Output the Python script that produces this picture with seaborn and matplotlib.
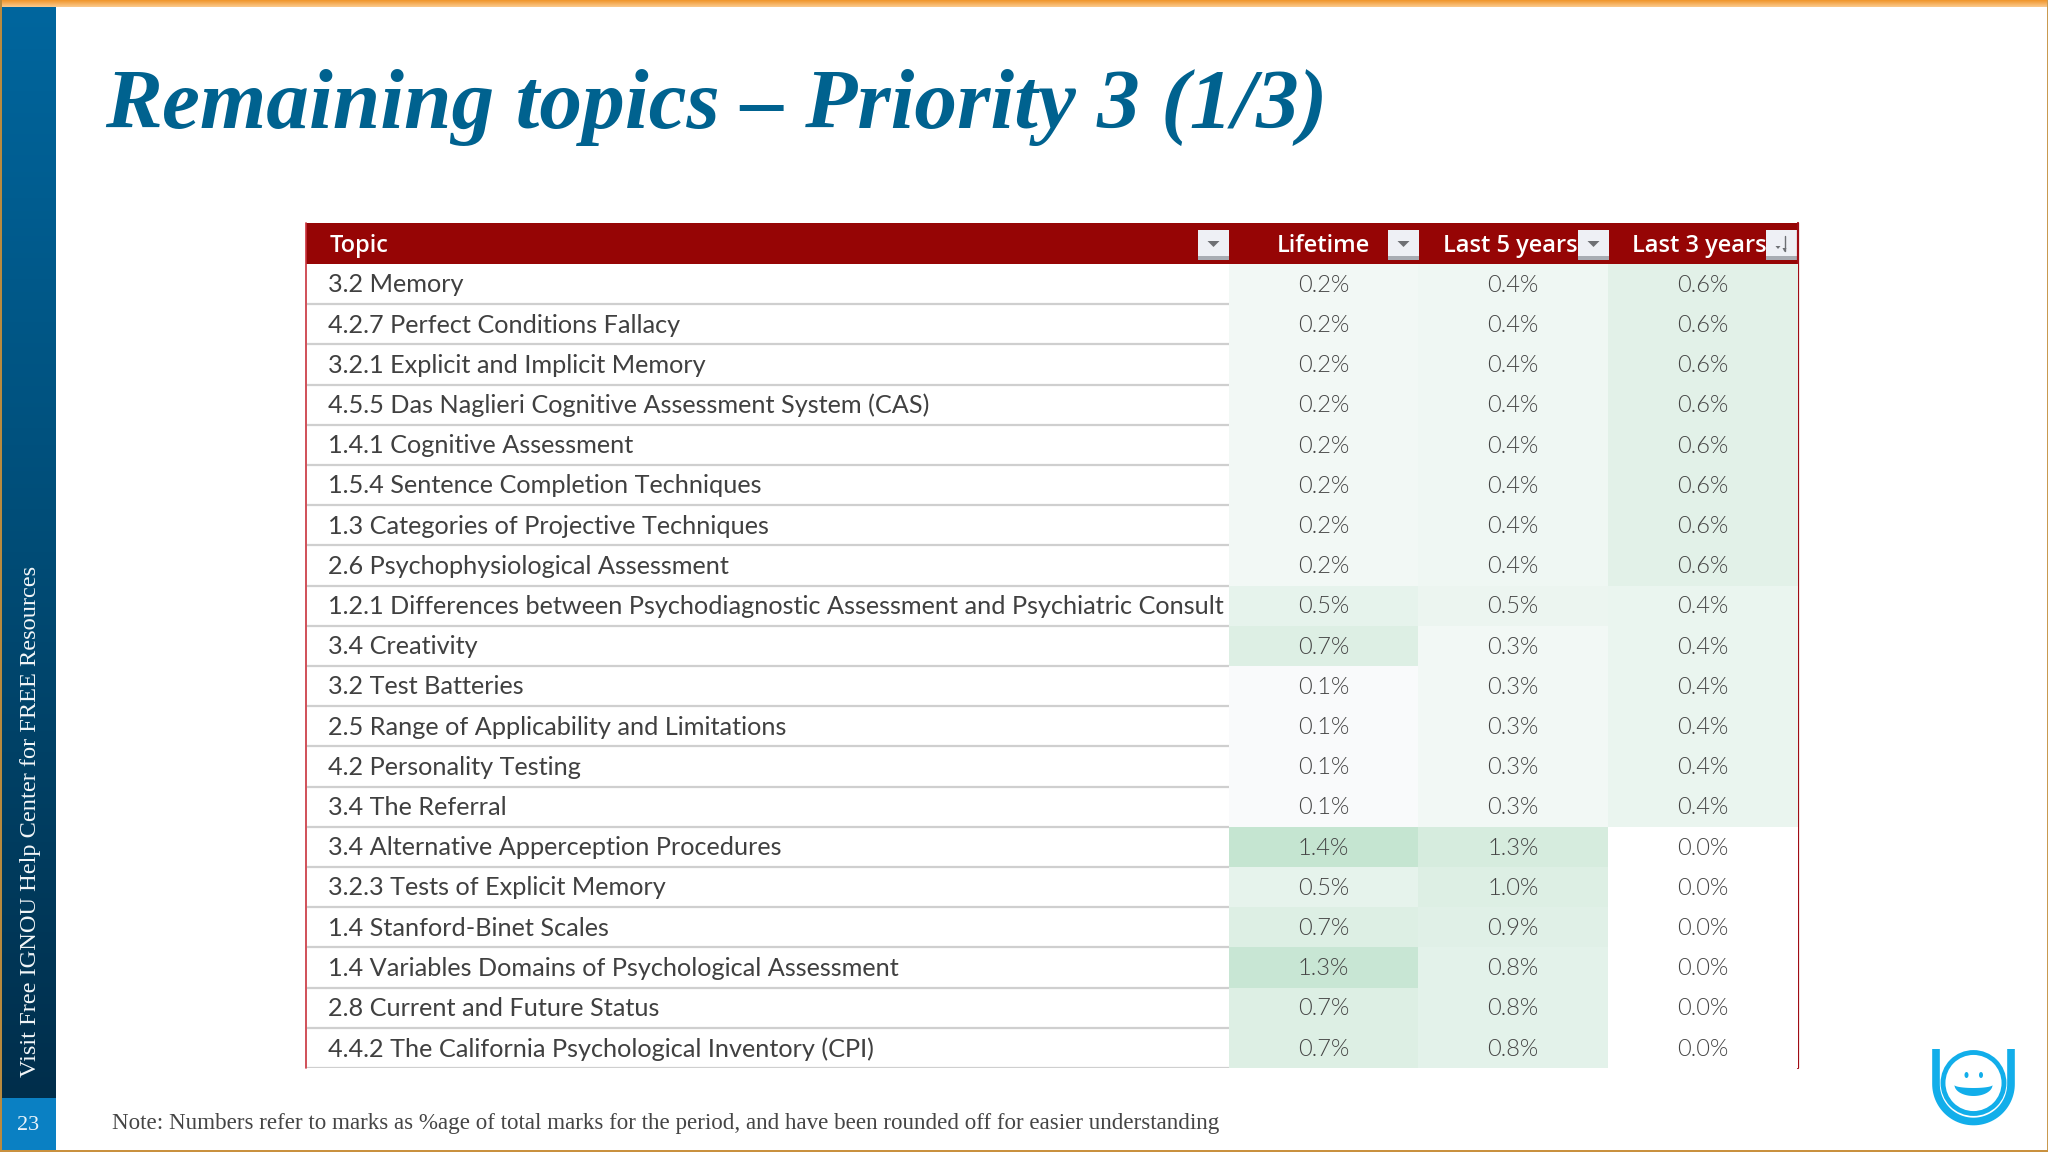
import numpy as np
import pandas as pd
import seaborn as sns
from matplotlib import pyplot as plt
from matplotlib.colors import LinearSegmentedColormap
from matplotlib.patches import Rectangle, Polygon, Circle, Ellipse

# Table content
topics = [
    "3.2 Memory",
    "4.2.7 Perfect Conditions Fallacy",
    "3.2.1 Explicit and Implicit Memory",
    "4.5.5 Das Naglieri Cognitive Assessment System (CAS)",
    "1.4.1 Cognitive Assessment",
    "1.5.4 Sentence Completion Techniques",
    "1.3 Categories of Projective Techniques",
    "2.6 Psychophysiological Assessment",
    "1.2.1 Differences between Psychodiagnostic Assessment and Psychiatric Consult",
    "3.4 Creativity",
    "3.2 Test Batteries",
    "2.5 Range of Applicability and Limitations",
    "4.2 Personality Testing",
    "3.4 The Referral",
    "3.4 Alternative Apperception Procedures",
    "3.2.3 Tests of Explicit Memory",
    "1.4 Stanford-Binet Scales",
    "1.4 Variables Domains of Psychological Assessment",
    "2.8 Current and Future Status",
    "4.4.2 The California Psychological Inventory (CPI)",
]
lifetime = [0.2, 0.2, 0.2, 0.2, 0.2, 0.2, 0.2, 0.2, 0.5, 0.7,
            0.1, 0.1, 0.1, 0.1, 1.4, 0.5, 0.7, 1.3, 0.7, 0.7]
last_5 = [0.4, 0.4, 0.4, 0.4, 0.4, 0.4, 0.4, 0.4, 0.5, 0.3,
          0.3, 0.3, 0.3, 0.3, 1.3, 1.0, 0.9, 0.8, 0.8, 0.8]
last_3 = [0.6, 0.6, 0.6, 0.6, 0.6, 0.6, 0.6, 0.6, 0.4, 0.4,
          0.4, 0.4, 0.4, 0.4, 0.0, 0.0, 0.0, 0.0, 0.0, 0.0]
columns = ["Lifetime", "Last 5 years", "Last 3 years"]

title = "Remaining topics – Priority 3 (1/3)"
note = "Note: Numbers refer to marks as %age of total marks for the period, and have been rounded off for easier understanding"
side_text = "Visit Free IGNOU Help Center for FREE Resources"
page_number = "23"

sns.set_theme(style="white")
plt.rcParams['font.family'] = ['Lato', 'DejaVu Sans']

W, H = 2048, 1152
fig = plt.figure(figsize=(W / 100, H / 100), dpi=100, facecolor="white")


def px_axes(left, top, right, bottom, zorder=1):
    ax = fig.add_axes([left / W, 1 - bottom / H, (right - left) / W, (bottom - top) / H])
    ax.set_zorder(zorder)
    return ax


# Slide background, in pixel coordinates
bg = px_axes(0, 0, W, H, zorder=0)
bar_colors = LinearSegmentedColormap.from_list("bar", ["#00669E", "#004C76", "#002E4B"])
bg.imshow(np.linspace(0, 1, 256).reshape(-1, 1), cmap=bar_colors, aspect="auto",
          extent=(1, 56, 1098, 6))
stripe = LinearSegmentedColormap.from_list("stripe", ["#F0962C", "#FBC98C"])
bg.imshow(np.linspace(0, 1, 16).reshape(-1, 1), cmap=stripe, aspect="auto",
          extent=(0, W, 7, 0))
bg.add_patch(Rectangle((1, 1098), 55, 54, color="#0A80C3", lw=0))
bg.add_patch(Rectangle((0, 0), 1.5, H, color="#B98A3E", lw=0))
bg.add_patch(Rectangle((W - 1.5, 0), 1.5, H, color="#C99A50", lw=0))
bg.add_patch(Rectangle((0, H - 2), W, 2, color="#C9913F", lw=0))
bg.set_xlim(0, W)
bg.set_ylim(H, 0)
bg.axis("off")

bg.text(105, 128, title, color="#00628F", fontsize=61.5, style="italic", fontweight="bold",
        family="Liberation Serif", va="baseline", ha="left")
bg.text(112, 1124, note, color="#454545", fontsize=16.55, family="Liberation Serif",
        va="center", ha="left")
bg.text(31, 821, side_text, color="#F2F6F8", fontsize=17.6, family="Liberation Serif",
        rotation=90, va="center", ha="center")
bg.text(28, 1126, page_number, color="#EAF4FA", fontsize=16, family="Liberation Serif",
        va="center", ha="center")

# Table header band and borders
col_edges = [1229, 1418, 1608, 1798]
table_left, table_top, header_bottom, table_bottom = 306, 223, 264, 1068
bg.add_patch(Rectangle((table_left, table_top), col_edges[-1] - table_left,
                       header_bottom - table_top, color="#960505", lw=0))
header_kw = dict(color="white", fontsize=17, va="center", family="Open Sans",
                 fontweight=600, zorder=3)
bg.text(330, 246, "Topic", ha="left", **header_kw)
bg.text(1323, 246, columns[0], ha="center", **header_kw)
bg.text(1443, 246, columns[1], ha="left", **header_kw)
bg.text(1632, 246, columns[2], ha="left", **header_kw)

# Filter buttons on the header
for i, right in enumerate([1229, 1419, 1609, 1797]):
    left = right - 31
    bg.add_patch(Rectangle((left, 230), 31, 28, color="#EEF0F5", lw=0, zorder=4))
    bg.add_patch(Rectangle((left, 256), 31, 4, color="#A8ACB3", lw=0, zorder=4))
    mid = left + 15.5
    if i < 3:
        bg.add_patch(Polygon([(mid - 6, 241), (mid + 6, 241), (mid, 247)],
                             color="#6E7074", lw=0, zorder=5))
    else:
        bg.add_patch(Polygon([(mid - 6, 246), (mid - 1, 246), (mid - 3.5, 249)],
                             color="#6E7074", lw=0, zorder=5))
        bg.plot([mid + 3, mid + 3], [236, 251], color="#6E7074", lw=1, zorder=5)
        bg.add_patch(Polygon([(mid + 1, 248), (mid + 5, 248), (mid + 3, 252)],
                             color="#6E7074", lw=0, zorder=5))

bg.plot([table_left, table_left], [table_top, table_bottom], color="#C8323C", lw=1.2)
bg.plot([col_edges[-1]] * 2, [table_top, table_bottom], color="#A00C14", lw=1.6, zorder=6)

# Topic column
n_rows = len(topics)
ax_topic = px_axes(table_left + 1, header_bottom, col_edges[0], table_bottom)
ax_topic.set_xlim(0, col_edges[0] - table_left - 1)
ax_topic.set_ylim(n_rows, 0)
ax_topic.axis("off")
ax_topic.hlines(np.arange(1, n_rows + 1), 0, col_edges[0] - table_left, color="#CFCFCF", lw=1.6)
for i, topic in enumerate(topics):
    ax_topic.text(21, i + 0.52, topic, color="#404040", fontsize=18.15, va="center", ha="left",
                  clip_on=True)

# Heat columns, each with its own colour scale
green = LinearSegmentedColormap.from_list(
    "green", [(0, "#FFFFFF"), (0.07, "#F9FAFB"), (0.14, "#F2F8F5"), (0.36, "#E6F3EC"),
              (0.5, "#DDEFE4"), (1, "#C5E5D1")])
table = pd.DataFrame({"Lifetime": lifetime, "Last 5 years": last_5, "Last 3 years": last_3})
col_vmax = {"Lifetime": 1.4, "Last 5 years": 2.0, "Last 3 years": 1.4}

for i, col in enumerate(columns):
    ax = px_axes(col_edges[i], header_bottom, col_edges[i + 1], table_bottom)
    labels = np.array([[f"{v:.1f}%"] for v in table[col]])
    sns.heatmap(table[[col]], ax=ax, cmap=green, vmin=0, vmax=col_vmax[col], cbar=False,
                annot=labels, fmt="", xticklabels=False, yticklabels=False,
                annot_kws={"fontsize": 17, "color": "#454545", "fontweight": 300})
    ax.set_xlabel("")
    ax.set_ylabel("")
    for t in ax.texts:
        t.set_y(t.get_position()[1] + 0.03)

# Logo
logo_blue = "#12AEEA"
arc = np.linspace(np.pi, 0, 60)
bg.plot(np.r_[1936, 1973.5 + 37.5 * np.cos(arc), 2011],
        np.r_[1049, 1084 + 37.5 * np.sin(arc), 1049],
        color=logo_blue, lw=5.5, solid_capstyle="butt", zorder=5)
bg.add_patch(Circle((1973.5, 1083), 30.5, fill=False, ec=logo_blue, lw=3.5, zorder=5))
bg.add_patch(Ellipse((1966.5, 1075), 4, 6, color=logo_blue, lw=0, zorder=5))
bg.add_patch(Ellipse((1981, 1075), 4, 6, color=logo_blue, lw=0, zorder=5))
smile = np.linspace(np.pi, 0, 40)
bg.add_patch(Polygon(np.c_[np.r_[1973.5 + 19 * np.cos(smile), 1973.5 + 19 * np.cos(smile[::-1])],
                           np.r_[1085 + 3 * np.sin(smile), 1085 + 11 * np.sin(smile[::-1])]],
                     color=logo_blue, lw=0, zorder=5))

fig.savefig("out.png", dpi=100)
